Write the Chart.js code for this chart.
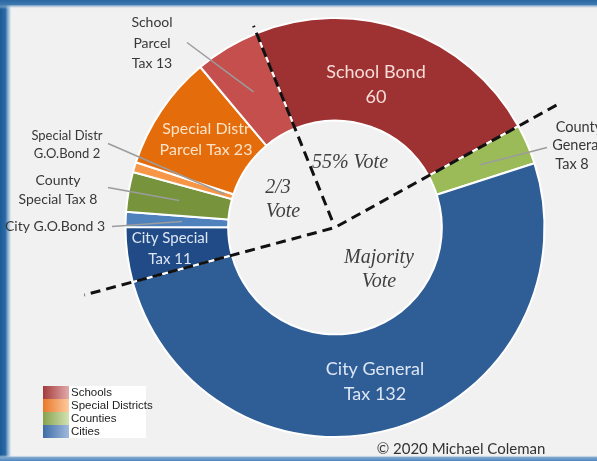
<!DOCTYPE html>
<html><head><meta charset="utf-8">
<script src="https://cdn.jsdelivr.net/npm/chart.js@4/dist/chart.umd.min.js"></script>
<style>html,body{margin:0;padding:0;background:#f1f1f1;overflow:hidden}canvas{display:block}</style>
</head><body>
<canvas id="c" width="597" height="461"></canvas>
<script>
// ---- data ----
const categories = ['School Bond','County General Tax','City General Tax','City Special Tax','City G.O.Bond','County Special Tax','Special Distr G.O.Bond','Special Distr Parcel Tax','School Parcel Tax'];
const values = [60, 8, 132, 11, 3, 8, 2, 23, 13];
const sliceColors = ['#9e3131','#9bbb59','#2f5e97','#214b86','#4f81bd','#77933c','#f79646','#e46c0a','#c44f4d'];
const legendLabels = ['Schools','Special Districts','Counties','Cities'];
const legendColors = [['#a33b3b','#e2abab'],['#e9782a','#fccb9f'],['#87a24e','#d3e2b3'],['#3e6ca6','#a1badd']];

// text annotations (offset from doughnut centre)
const sliceLabels = [
  {t:'School Bond', dx:41, dy:-155, c:'#f7ddd9', f:'18px Lato'},
  {t:'60', dx:41, dy:-130, c:'#f7ddd9', f:'18px Lato'},
  {t:'Special Distr', dx:-129, dy:-99, c:'#fde3c8', f:'16px Lato'},
  {t:'Parcel Tax 23', dx:-129, dy:-78, c:'#fde3c8', f:'16px Lato'},
  {t:'City Special', dx:-165, dy:11, c:'#dde6f3', f:'15px Lato'},
  {t:'Tax 11', dx:-165, dy:32, c:'#dde6f3', f:'15px Lato'},
  {t:'City General', dx:40, dy:142, c:'#dde6f3', f:'18px Lato'},
  {t:'Tax 132', dx:40, dy:167, c:'#dde6f3', f:'18px Lato'},
  {t:'School', dx:-183, dy:-205, c:'#383838', f:'14px Lato'},
  {t:'Parcel', dx:-183, dy:-184, c:'#383838', f:'14px Lato'},
  {t:'Tax 13', dx:-183, dy:-164, c:'#383838', f:'14px Lato'},
  {t:'Special Distr', dx:-268, dy:-92, c:'#383838', f:'13px Lato'},
  {t:'G.O.Bond 2', dx:-268, dy:-74, c:'#383838', f:'13px Lato'},
  {t:'County', dx:-277, dy:-47, c:'#383838', f:'14px Lato'},
  {t:'Special Tax 8', dx:-277, dy:-28, c:'#383838', f:'14px Lato'},
  {t:'City G.O.Bond 3', dx:-280, dy:-1, c:'#383838', f:'14px Lato'},
  {t:'County', dx:244, dy:-100, c:'#383838', f:'14.5px Lato'},
  {t:'General', dx:242, dy:-82, c:'#383838', f:'14.5px Lato'},
  {t:'Tax 8', dx:237, dy:-63, c:'#383838', f:'14.5px Lato'},
  {t:'55% Vote', dx:15, dy:-65, c:'#404040', f:'italic 20px "Liberation Serif"'},
  {t:'2/3', dx:-57, dy:-40, c:'#404040', f:'italic 20px "Liberation Serif"'},
  {t:'Vote', dx:-52, dy:-16, c:'#404040', f:'italic 20px "Liberation Serif"'},
  {t:'Majority', dx:44, dy:30, c:'#404040', f:'italic 20px "Liberation Serif"'},
  {t:'Vote', dx:44, dy:54, c:'#404040', f:'italic 20px "Liberation Serif"'}
];
// leader lines: start offset from centre, end at slice index / radial fraction
const leaders = [
  {dx:-148, dy:-185, i:8, fr:0.5},
  {dx:-227, dy:-84, i:6, fr:0.08},
  {dx:-227, dy:-40, i:5, fr:0.5},
  {dx:-223, dy:-1, i:4, fr:0.45},
  {dx:212, dy:-80, i:1, fr:0.5}
];

const framePlugin = {
  id:'frame',
  beforeDraw(chart){
    const ctx = chart.ctx, W = chart.width, H = chart.height;
    ctx.save();
    ctx.fillStyle = '#f1f1f1'; ctx.fillRect(0,0,W,H);
    let g = ctx.createLinearGradient(0,0,12,0);
    g.addColorStop(0,'#1b5a94'); g.addColorStop(0.45,'#2a6aa6'); g.addColorStop(0.8,'rgba(150,185,220,0.6)'); g.addColorStop(1,'rgba(241,241,241,0)');
    ctx.fillStyle = g; ctx.fillRect(0,0,12,H);
    g = ctx.createLinearGradient(0,0,0,9);
    g.addColorStop(0,'#2a66a0'); g.addColorStop(0.5,'#3d78b0'); g.addColorStop(1,'rgba(241,241,241,0)');
    ctx.fillStyle = g; ctx.fillRect(0,0,W,9);
    g = ctx.createLinearGradient(0,H-6,0,H);
    g.addColorStop(0,'rgba(241,241,241,0)'); g.addColorStop(0.4,'#7fa8d0'); g.addColorStop(1,'#4f86bf');
    ctx.fillStyle = g; ctx.fillRect(0,H-6,W,6);
    ctx.restore();
  }
};

const annotPlugin = {
  id:'annot',
  afterDatasetsDraw(chart){
    const ctx = chart.ctx;
    const meta = chart.getDatasetMeta(0);
    const a0 = meta.data[0];
    const cx = a0.x, cy = a0.y, R = a0.outerRadius, r = a0.innerRadius;
    ctx.save();
    // leader lines
    ctx.strokeStyle = '#9c9c9c'; ctx.lineWidth = 1.5;
    leaders.forEach(l => {
      const a = meta.data[l.i];
      const ang = (a.startAngle + a.endAngle)/2;
      const rr = r + (R - r)*l.fr;
      ctx.beginPath();
      ctx.moveTo(cx + l.dx, cy + l.dy);
      ctx.lineTo(cx + Math.cos(ang)*rr, cy + Math.sin(ang)*rr);
      ctx.stroke();
    });
    // dashed vote boundaries along slice edges
    ctx.strokeStyle = '#111'; ctx.lineWidth = 3; ctx.setLineDash([10,6]);
    const lines = [
      {ang: meta.data[0].startAngle, r0: 8, r1: R + 8},
      {ang: meta.data[0].endAngle, r0: 3, r1: R + 46},
      {ang: meta.data[2].endAngle, r0: 3, r1: R + 50}
    ];
    lines.forEach(L => {
      ctx.beginPath();
      ctx.moveTo(cx + Math.cos(L.ang)*L.r0, cy + Math.sin(L.ang)*L.r0);
      ctx.lineTo(cx + Math.cos(L.ang)*L.r1, cy + Math.sin(L.ang)*L.r1);
      ctx.stroke();
    });
    ctx.setLineDash([]);
    // texts
    ctx.textAlign = 'center'; ctx.textBaseline = 'middle';
    sliceLabels.forEach(s => {
      ctx.font = s.f; ctx.fillStyle = s.c;
      ctx.fillText(s.t, cx + s.dx, cy + s.dy);
    });
    // copyright
    ctx.font = '15px Lato'; ctx.fillStyle = '#333';
    ctx.fillText('\u00A9 2020 Michael Coleman', 461, 449);
    // legend
    const lx = 43, ly = 386, rowH = 13;
    ctx.fillStyle = '#ffffff'; ctx.fillRect(lx, ly, 103, rowH*legendLabels.length);
    ctx.textAlign = 'left';
    ctx.font = '11.5px "Liberation Sans"';
    legendLabels.forEach((lab, k) => {
      const g = ctx.createLinearGradient(lx, 0, lx + 26, 0);
      g.addColorStop(0, legendColors[k][0]); g.addColorStop(1, legendColors[k][1]);
      ctx.fillStyle = g; ctx.fillRect(lx, ly + k*rowH, 26, rowH);
      ctx.fillStyle = '#222';
      ctx.fillText(lab, lx + 28, ly + k*rowH + rowH/2 + 0.5);
    });
    ctx.restore();
  }
};

new Chart(document.getElementById('c'), {
  type:'doughnut',
  data:{
    labels: categories,
    datasets:[{
      data: values,
      backgroundColor: sliceColors,
      borderColor:'#ffffff',
      borderWidth:2
    }]
  },
  options:{
    responsive:false,
    animation:false,
    rotation:-22,
    cutout:'51%',
    layout:{padding:{top:17, bottom:23, left:100, right:27}},
    plugins:{legend:{display:false}, tooltip:{enabled:false}}
  },
  plugins:[framePlugin, annotPlugin]
});
</script>
</body></html>
